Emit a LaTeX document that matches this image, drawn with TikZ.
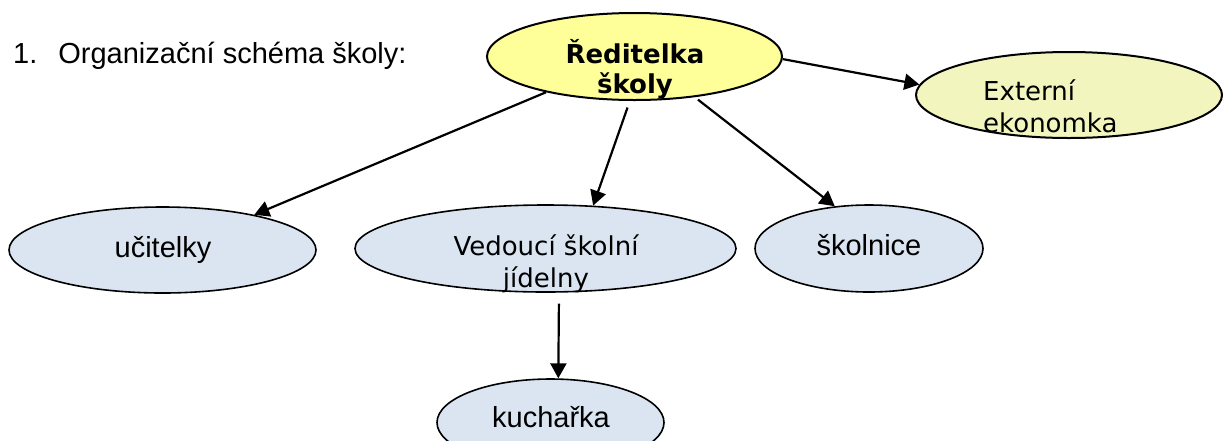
\documentclass[tikz,border=0pt]{standalone}
\usepackage{fontspec}
\setmainfont{Liberation Sans}
\newfontfamily\dejavu{DejaVu Sans}
\usetikzlibrary{arrows.meta,shapes.geometric}
\definecolor{yel}{RGB}{255,255,153}
\definecolor{ylg}{RGB}{242,246,190}
\definecolor{lblue}{RGB}{219,229,241}
\begin{document}
\begin{tikzpicture}[x=1pt,y=-1pt,
  ell/.style={ellipse, draw=black, inner sep=0pt},
  topell/.style={ell, line width=2pt},
  subell/.style={ell, line width=1.6pt, fill=lblue},
  arialtxt/.style={inner sep=0pt, font=\fontsize{29}{33}\selectfont},
  dvtxt/.style={inner sep=0pt, font=\dejavu\fontsize{26}{32}\selectfont},
  arr/.style={line width=2.2pt, -{Triangle[length=15pt,width=16pt]}}]
\useasboundingbox (0,0) rectangle (1223,440);
\clip (0,0) rectangle (1223,440);
% title
\node[arialtxt, anchor=base west] (title) at (13,63) {1.\hspace{21pt}Organizační schéma školy:};
% ellipses
\node[topell, fill=yel, minimum width=295pt, minimum height=87pt] (red) at (634.5,56.5) {};
\node[topell, fill=ylg, minimum width=306pt, minimum height=86pt] (ext) at (1069,95) {};
\node[subell, minimum width=307pt, minimum height=86pt] (uc) at (162.5,250) {};
\node[subell, minimum width=381pt, minimum height=87pt] (ved) at (545.5,248.5) {};
\node[subell, minimum width=228pt, minimum height=87pt] (skol) at (869,248.5) {};
\node[subell, minimum width=227pt, minimum height=87pt] (kuch) at (550.5,422.5) {};
% texts (base anchor = baseline of the last line)
\node[inner sep=0pt, anchor=base, align=center, font=\dejavu\bfseries\fontsize{26}{30}\selectfont] (redt) at (635,93) {Ředitelka\\školy};
\node[dvtxt, anchor=base west, align=left] (extt) at (983,132) {Externí\\ekonomka};
\node[arialtxt, anchor=base] (uct) at (163,257) {učitelky};
\node[dvtxt, anchor=base, align=center] (vedt) at (546,287) {Vedoucí školní\\jídelny};
\node[arialtxt, anchor=base] (skolt) at (869,255) {školnice};
\node[arialtxt, anchor=base] (kucht) at (551,427) {kuchařka};
% connectors
\draw[arr] (red.202.6) -- (uc.21.3);
\draw[arr, shorten <=7pt] (red.-96.5) -- (ved.42.8);
\draw[arr, shorten <=4pt] (red.-34.9) -- (skol.129.3);
\draw[arr] (red.-1.4) -- (ext.176.6);
\draw[arr, shorten <=11pt] (ved.-73.9) -- (kuch.80.2);
\end{tikzpicture}
\end{document}
